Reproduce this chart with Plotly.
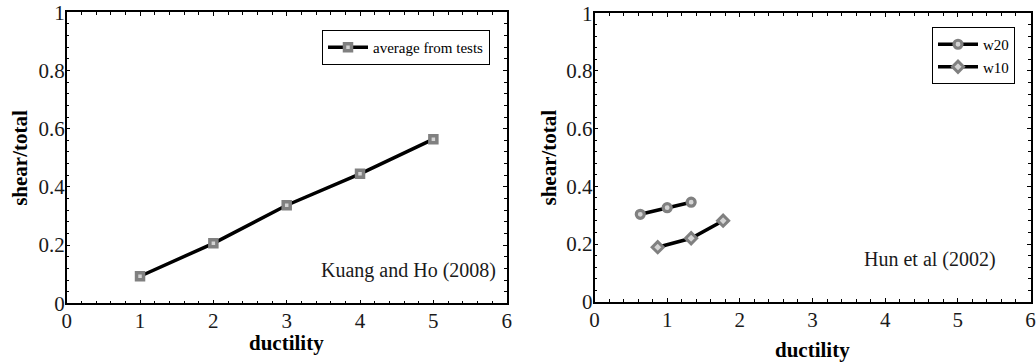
import plotly.graph_objects as go

# ---- data ----
kuang_x = [1, 2, 3, 4, 5]
kuang_y = [0.093, 0.206, 0.337, 0.445, 0.564]

w20_x = [0.63, 1.0, 1.33]
w20_y = [0.303, 0.326, 0.345]

w10_x = [0.87, 1.33, 1.77]
w10_y = [0.189, 0.220, 0.281]

x_ticks = [0, 1, 2, 3, 4, 5, 6]
y_ticks = [0, 0.2, 0.4, 0.6, 0.8, 1]

FONT = "Liberation Serif, Times New Roman, serif"
W, H = 1036, 362

fig = go.Figure()

fig.add_trace(go.Scatter(
    x=kuang_x, y=kuang_y, mode="lines+markers", name="average from tests",
    line=dict(color="black", width=3.5),
    marker=dict(symbol="square", size=7, color="#d4d4d4",
                line=dict(color="#808080", width=3.5)),
    xaxis="x", yaxis="y", legend="legend", showlegend=True))

fig.add_trace(go.Scatter(
    x=w20_x, y=w20_y, mode="lines+markers", name="w20",
    line=dict(color="black", width=3.5),
    marker=dict(symbol="circle", size=8, color="#d4d4d4",
                line=dict(color="#808080", width=3.2)),
    xaxis="x2", yaxis="y2", legend="legend2", showlegend=True))

fig.add_trace(go.Scatter(
    x=w10_x, y=w10_y, mode="lines+markers", name="w10",
    line=dict(color="black", width=3.5),
    marker=dict(symbol="diamond", size=8.5, color="#d4d4d4",
                line=dict(color="#808080", width=3)),
    xaxis="x2", yaxis="y2", legend="legend2", showlegend=True))


def xax(domain, anchor):
    return dict(domain=domain, anchor=anchor, range=[0, 6], tickvals=x_ticks,
                automargin=False, ticklabelstandoff=-2,
                ticks="inside", ticklen=4, tickwidth=1, tickcolor="black",
                minor=dict(dtick=0.2, ticks="inside", ticklen=2.5, tickcolor="black"),
                showline=True, linecolor="black", linewidth=1.5, mirror="allticks",
                showgrid=False, zeroline=False,
                tickfont=dict(family=FONT, size=21, color="#1a1a1a"))


def yax(domain, anchor):
    return dict(domain=domain, anchor=anchor, range=[0, 1], tickvals=y_ticks,
                automargin=False, ticklabelstandoff=-4,
                ticks="inside", ticklen=4, tickwidth=1, tickcolor="black",
                minor=dict(dtick=0.04, ticks="inside", ticklen=2.5, tickcolor="black"),
                showline=True, linecolor="black", linewidth=1.5, mirror="allticks",
                showgrid=False, zeroline=False,
                tickfont=dict(family=FONT, size=21, color="#1a1a1a"))


title_font = dict(family=FONT, size=21, color="black", weight="bold")
ann_font = dict(family=FONT, size=20, color="#1a1a1a")

fig.update_layout(
    template="none",
    width=W, height=H, margin=dict(l=0, r=0, t=0, b=0, autoexpand=False),
    paper_bgcolor="white", plot_bgcolor="white",
    showlegend=True,
    xaxis=xax([66.7 / W, 506.7 / W], "y"),
    yaxis=yax([1 - 303.3 / H, 1 - 12.3 / H], "x"),
    xaxis2=xax([594.5 / W, 1030.5 / W], "y2"),
    yaxis2=yax([1 - 301.7 / H, 1 - 13.3 / H], "x2"),
    legend=dict(x=490 / W, xanchor="right", y=1 - 30 / H, yanchor="top",
                bordercolor="black", borderwidth=1, bgcolor="white",
                itemwidth=40,
                font=dict(family=FONT, size=15, color="black")),
    legend2=dict(x=1015 / W, xanchor="right", y=1 - 27 / H, yanchor="top",
                 bordercolor="black", borderwidth=1, bgcolor="white",
                 itemwidth=40,
                 font=dict(family=FONT, size=15, color="black")),
    annotations=[
        dict(text="Kuang and Ho (2008)", x=5.88, y=0.114, xref="x", yref="y",
             xanchor="right", yanchor="middle", showarrow=False, font=ann_font),
        dict(text="Hun et al (2002)", x=5.557, y=0.147, xref="x2", yref="y2",
             xanchor="right", yanchor="middle", showarrow=False, font=ann_font),
        # axis titles
        dict(text="ductility", x=0.5, xref="x domain", y=1 - 343 / H, yref="paper",
             xanchor="center", yanchor="middle", showarrow=False, font=title_font),
        dict(text="ductility", x=0.5, xref="x2 domain", y=1 - 350 / H, yref="paper",
             xanchor="center", yanchor="middle", showarrow=False, font=title_font),
        dict(text="shear/total", x=20 / W, xref="paper", y=0.5, yref="y domain",
             textangle=-90, xanchor="center", yanchor="middle", showarrow=False,
             font=title_font),
        dict(text="shear/total", x=548 / W, xref="paper", y=0.5, yref="y2 domain",
             textangle=-90, xanchor="center", yanchor="middle", showarrow=False,
             font=title_font),
    ],
)

fig.write_html("out.html")
